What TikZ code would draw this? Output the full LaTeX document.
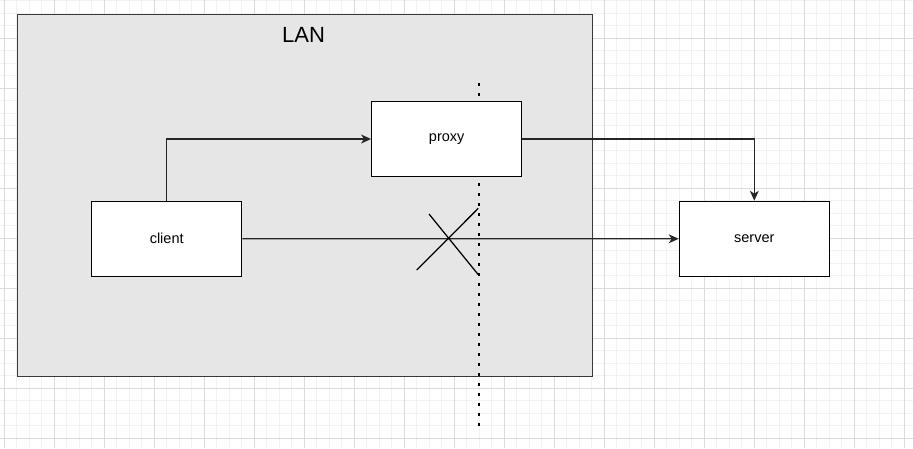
\documentclass[tikz,border=0pt]{standalone}
\usepackage{fontspec}
\setmainfont{Liberation Sans}
\usetikzlibrary{arrows.meta}
\definecolor{gridminor}{HTML}{F2F2F2}
\definecolor{gridmajor}{HTML}{DCDCDC}
\definecolor{lanfill}{HTML}{E6E6E6}
\definecolor{lanborder}{HTML}{36393D}
\tikzset{
  box/.style={draw=black, fill=white, line width=1.25pt, minimum width=150pt, minimum height=75pt, inner sep=0pt, font=\fontsize{14.5}{16}\selectfont},
  conn/.style={line width=1.25pt, draw=black!85, -{Stealth[length=10pt,width=9pt,inset=3pt]}},
  crossline/.style={line width=1.25pt, draw=black},
  dotline/.style={line width=2.2pt, dash pattern=on 2.2pt off 7.8pt, draw=black}
}
\begin{document}
\begin{tikzpicture}[x=1pt,y=-1pt]
\useasboundingbox (0,0) rectangle (913,448);
\fill[white] (0,0) rectangle (913,448);
% grid
\foreach \i in {0,...,73} {
  \pgfmathsetmacro\gx{4.3+12.5*(\i-0)}
  \draw[gridminor, line width=1pt] (\gx,0) -- (\gx,448);
}
\foreach \i in {-3,...,36} {
  \pgfmathsetmacro\gy{38.3+12.5*\i}
  \draw[gridminor, line width=1pt] (0,\gy) -- (913,\gy);
}
\foreach \i in {0,...,18} {
  \pgfmathsetmacro\gx{4.3+50*\i}
  \draw[gridmajor, line width=1pt] (\gx,0) -- (\gx,448);
}
\foreach \i in {0,...,8} {
  \pgfmathsetmacro\gy{38.3+50*\i}
  \draw[gridmajor, line width=1pt] (0,\gy) -- (913,\gy);
}
% LAN
\node[draw=lanborder, fill=lanfill, line width=1.25pt, minimum width=575pt, minimum height=362pt, inner sep=0pt, anchor=north west] (lan) at (16.5,14) {};
\node[font=\fontsize{22}{24}\selectfont] (lanlabel) at (303.5,35) {LAN};
% dotted boundary
\coordinate (dtop) at (478.7,83.4);
\coordinate (dbot) at (478.7,426);
\draw[dotline] (dtop) -- (dbot);
% boxes
\node[box] (client) at (166.7,238.7) {client};
\node[box] (proxy) at (446.7,139) {proxy};
\node[box] (server) at (754.3,238.8) {server};
% connectors
\draw[conn] (client.north) |- (proxy.west);
\draw[conn] (proxy.east) -| (server.north);
\draw[conn] (client.east) -- (server.west);
% cross
\coordinate (c1) at (429,214);
\coordinate (c2) at (478.3,274.7);
\coordinate (c3) at (416.7,270);
\coordinate (c4) at (478.3,208.3);
\draw[crossline] (c1) -- (c2);
\draw[crossline] (c3) -- (c4);
\end{tikzpicture}
\end{document}
